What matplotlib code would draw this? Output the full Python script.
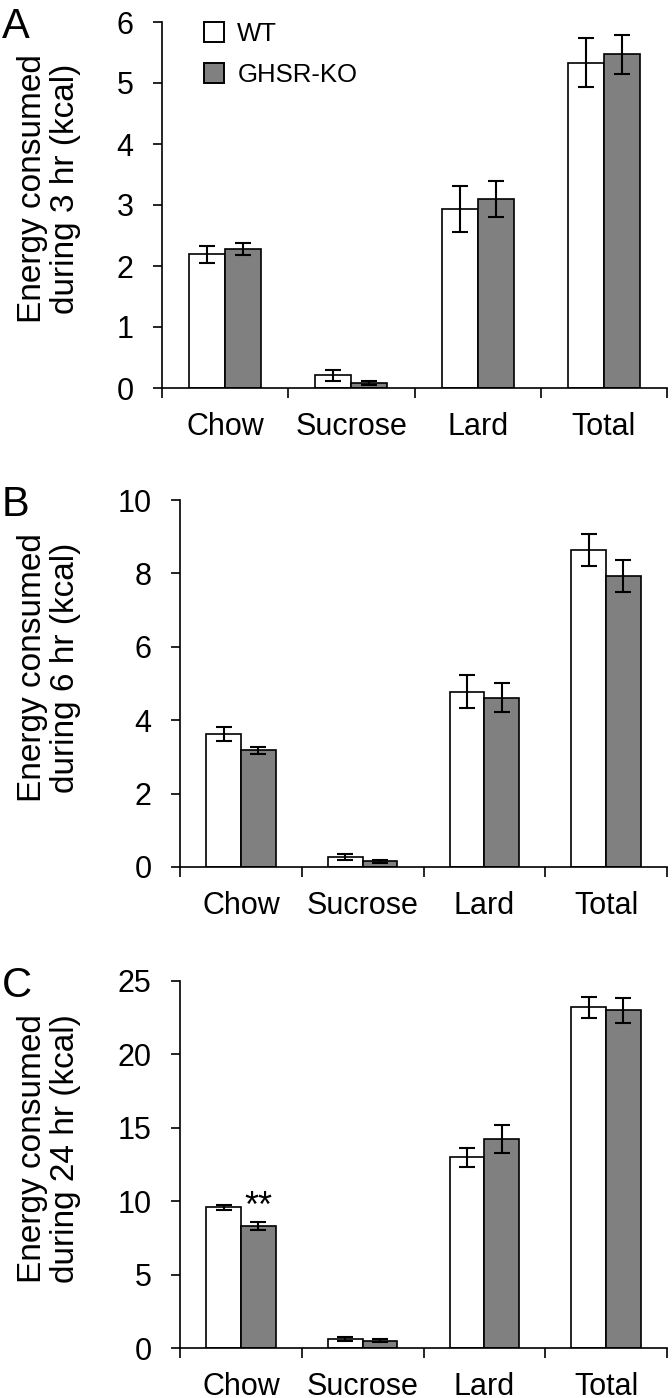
import numpy as np
import matplotlib
matplotlib.use("Agg")
import matplotlib.pyplot as plt
from matplotlib.patches import Patch

plt.rcParams['font.family'] = ['Liberation Sans', 'DejaVu Sans']

# ---- data ----
categories = ['Chow', 'Sucrose', 'Lard', 'Total']
groups = ['WT', 'GHSR-KO']

wt_3hr = [2.19, 0.21, 2.93, 5.33]
wt_3hr_err = [0.14, 0.09, 0.38, 0.40]
ko_3hr = [2.28, 0.08, 3.10, 5.47]
ko_3hr_err = [0.10, 0.03, 0.30, 0.32]

wt_6hr = [3.62, 0.27, 4.77, 8.64]
wt_6hr_err = [0.20, 0.09, 0.45, 0.43]
ko_6hr = [3.18, 0.15, 4.61, 7.92]
ko_6hr_err = [0.09, 0.04, 0.40, 0.44]

wt_24hr = [9.59, 0.61, 12.98, 23.2]
wt_24hr_err = [0.18, 0.12, 0.64, 0.70]
ko_24hr = [8.30, 0.48, 14.23, 23.0]
ko_24hr_err = [0.25, 0.10, 0.95, 0.84]

ylabels = ['Energy consumed\nduring 3 hr (kcal)',
           'Energy consumed\nduring 6 hr (kcal)',
           'Energy consumed\nduring 24 hr (kcal)']
yticks = [np.arange(0, 7, 1), np.arange(0, 11, 2), np.arange(0, 26, 5)]
panel_letters = ['A', 'B', 'C']

W, H = 672, 1398
fig = plt.figure(figsize=(W / 100, H / 100), dpi=100)

# axes boxes in pixels: left, right, top, bottom
boxes = [(162, 667, 22, 388), (180, 667, 500, 867), (180, 667, 981, 1348)]

panels = [(wt_3hr, wt_3hr_err, ko_3hr, ko_3hr_err),
          (wt_6hr, wt_6hr_err, ko_6hr, ko_6hr_err),
          (wt_24hr, wt_24hr_err, ko_24hr, ko_24hr_err)]

bw = 0.285
x = np.arange(len(categories)) + 0.5
err_kw = dict(ecolor='black', elinewidth=1.5, capsize=5.5, capthick=1.5)

for k, (wt, wte, ko, koe) in enumerate(panels):
    l, r, t, b = boxes[k]
    ax = fig.add_axes([l / W, 1 - b / H, (r - l) / W, (b - t) / H])
    ax.bar(x - bw / 2, wt, bw, yerr=wte, color='white', edgecolor='black',
           linewidth=1.2, error_kw=err_kw, label=groups[0])
    ax.bar(x + bw / 2, ko, bw, yerr=koe, color='#808080', edgecolor='black',
           linewidth=1.2, error_kw=err_kw, label=groups[1])

    ax.set_xlim(0, 4)
    ax.set_ylim(yticks[k][0], yticks[k][-1])
    ax.set_yticks(yticks[k])
    ax.set_xticks(np.arange(0, 5))
    ax.set_xticklabels([])
    ax.set_xticks(x, minor=True)
    ax.set_xticklabels(categories, minor=True)
    ax.tick_params(axis='x', which='major', direction='out', length=7, width=1.2)
    ax.tick_params(axis='x', which='minor', length=0, pad=17, labelsize=22)
    ax.tick_params(axis='y', direction='out', length=6.5, width=1.2, pad=14, labelsize=22)
    for s in ['top', 'right']:
        ax.spines[s].set_visible(False)
    for s in ['left', 'bottom']:
        ax.spines[s].set_linewidth(1.2)

    cy = 1 - ((t + b) / 2 - 16) / H
    fig.text(49 / W, cy, ylabels[k], rotation=90, ha='center', va='center',
             multialignment='center', fontsize=24, linespacing=1.1)
    fig.text(2 / W, 1 - (t - 15) / H, panel_letters[k], ha='left', va='top', fontsize=30)

    if k == 0:
        handles = [Patch(facecolor='white', edgecolor='black', linewidth=1.4),
                   Patch(facecolor='#808080', edgecolor='black', linewidth=1.4)]
        ax.legend(handles, groups, loc='upper left', bbox_to_anchor=(0.083, 1.0),
                  frameon=False, fontsize=18.5, handlelength=0.8, handleheight=0.85,
                  handletextpad=0.5, labelspacing=0.65, borderpad=0, borderaxespad=0)
    if k == 2:
        ax.text(x[0] + bw / 2, ko[0] + koe[0] + 0.35, '**', ha='center',
                va='baseline', fontsize=26)

fig.savefig('out.png', dpi=100)
